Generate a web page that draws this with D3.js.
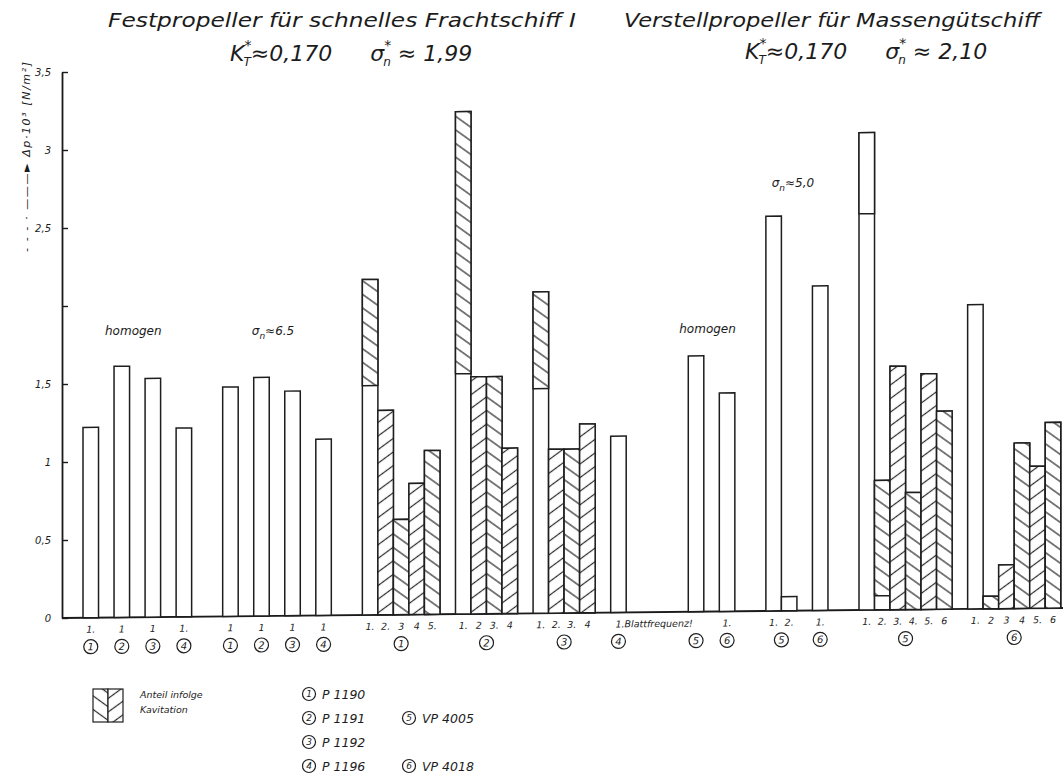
<!DOCTYPE html>
<html>
<head>
<meta charset="utf-8">
<script src="https://cdn.jsdelivr.net/npm/d3@7"></script>
<style>
  body { margin: 0; background: #fff; }
  text { font-family: "DejaVu Sans", sans-serif; font-style: italic; fill: #1c1c1c; }
</style>
</head>
<body>
<svg id="chart" width="1064" height="775"></svg>
<script>
// ---- Data ---------------------------------------------------------------
// Propellers (circled numbers)
const propellerNames = ["P 1190", "P 1191", "P 1192", "P 1196", "VP 4005", "VP 4018"];

// Measuring series: 0 homogen FP, 1 σn 6.5, 2 cavitating FP, 3 homogen VP, 4 σn 5,0, 5 cavitating VP
const sectionTitles = ["homogen", "σn≈6.5", "", "homogen", "σn≈5,0", ""];
const sectionPacked = [false, false, true, false, true, true];

// One entry per bar
const barSection = [0,0,0,0, 1,1,1,1, 2,2,2,2,2, 2,2,2,2, 2,2,2,2, 2, 3,3, 4,4,4, 5,5,5,5,5,5, 5,5,5,5,5,5];
const barProp    = [1,2,3,4, 1,2,3,4, 1,1,1,1,1, 2,2,2,2, 3,3,3,3, 4, 5,6, 5,5,6, 5,5,5,5,5,5, 6,6,6,6,6,6];
const barOrderLabel = ["1.","1","1","1.", "1","1","1","1",
  "1.","2.","3","4","5.", "1.","2","3.","4", "1.","2.","3.","4", "1.Blattfrequenz!",
  "", "1.", "1.","2.","1.", "1.","2.","3.","4.","5.","6", "1.","2","3","4","5.","6"];
// Δp·10^-3 total and non-cavitating share (the rest is the share due to cavitation)
const barTotal = [1.22,1.61,1.53,1.21, 1.47,1.53,1.44,1.13,
  2.15,1.31,0.61,0.84,1.05, 3.22,1.52,1.52,1.06, 2.06,1.05,1.05,1.21, 1.13,
  1.64,1.40, 2.53,0.09,2.08, 3.06,0.83,1.56,0.75,1.51,1.27, 1.95,0.08,0.28,1.06,0.91,1.19];
const barBase  = [1.22,1.61,1.53,1.21, 1.47,1.53,1.44,1.13,
  1.47,0,0,0,0, 1.54,0,0,0, 1.44,0,0,0, 1.13,
  1.64,1.40, 2.53,0.09,2.08, 2.54,0.09,0,0,0,0, 1.95,0,0,0,0,0];

const yTickValues = [0, 0.5, 1, 1.5, 2, 2.5, 3, 3.5];
const yTickLabels = ["0", "0,5", "1", "1,5", "", "2,5", "3", "3,5"];

// ---- Layout -------------------------------------------------------------
const svg = d3.select("#chart");
const axisX = 62;
const slope = 0.01;                 // the hand-drawn baseline rises slightly to the right
const skewDeg = Math.atan(slope) * 180 / Math.PI;

// Build the slot sequence along the baseline: spaced series leave one free slot
// between bars, packed series keep bars of one propeller side by side.
const slots = [];
let gapN = 0;
const gap = () => slots.push("gap" + (gapN++));
barSection.forEach((s, i) => {
  if (i > 0) {
    const ps = barSection[i - 1];
    if (ps !== s) {
      const n = (ps === 2 && s === 3) ? 4 : 2;
      for (let k = 0; k < n; k++) gap();
    } else if (!sectionPacked[s] || barProp[i - 1] !== barProp[i]) gap();
  }
  slots.push("b" + i);
});

const x = d3.scaleBand().domain(slots).range([83, 83 + slots.length * 15.52]).padding(0);
const y = d3.scaleLinear().domain([0, 3.5]).range([618, 72]);
const bw = x.bandwidth();

// hatch patterns
const defs = svg.append("defs");
function hatch(id, angle) {
  const p = defs.append("pattern").attr("id", id).attr("patternUnits", "userSpaceOnUse")
    .attr("width", 6).attr("height", 11).attr("patternTransform", `rotate(${angle})`);
  p.append("rect").attr("width", 6).attr("height", 11).attr("fill", "#fff");
  p.append("line").attr("x1", 0).attr("x2", 6).attr("y1", 5.5).attr("y2", 5.5)
    .attr("stroke", "#2a2a2a").attr("stroke-width", 1.2);
}
hatch("hBack", 36);   // "\\"
hatch("hFwd", -36);   // "//"

// ---- Titles -------------------------------------------------------------
function title(txt, x0, x1, yy) {
  svg.append("text").attr("x", x0).attr("y", yy).style("font-size", "20px")
    .attr("textLength", x1 - x0).attr("lengthAdjust", "spacingAndGlyphs").text(txt);
}
title("Festpropeller für schnelles Frachtschiff I", 108, 576, 27);
title("Verstellpropeller für Massengütschiff", 624, 1040, 27);

function coeffLine(x0, yy, sigma) {
  const t = svg.append("text").attr("x", x0).attr("y", yy).style("font-size", "22px");
  t.append("tspan").text("K");
  t.append("tspan").attr("dy", -11).style("font-size", "14px").text("*");
  t.append("tspan").attr("dx", -8).attr("dy", 16).style("font-size", "12px").text("T");
  t.append("tspan").attr("dy", -5).text("≈0,170");
  t.append("tspan").attr("dx", 38).text("σ");
  t.append("tspan").attr("dy", -11).style("font-size", "14px").text("*");
  t.append("tspan").attr("dx", -8).attr("dy", 16).style("font-size", "12px").text("n");
  t.append("tspan").attr("dy", -5).text(" ≈ " + sigma);
}
coeffLine(230, 61, "1,99");
coeffLine(745, 59, "2,10");

// ---- Y axis -------------------------------------------------------------
const yAxis = svg.append("g").attr("transform", `translate(${axisX},0)`)
  .call(d3.axisLeft(y).tickValues(yTickValues).tickSize(-6).tickSizeOuter(0).tickPadding(11)
    .tickFormat((d, i) => yTickLabels[i]));
yAxis.select(".domain").attr("stroke", "#1a1a1a").attr("stroke-width", 1.8);
yAxis.selectAll(".tick line").attr("stroke", "#1a1a1a").attr("stroke-width", 1.4);
yAxis.selectAll(".tick text").style("font-size", "10px").style("font-family", "DejaVu Sans")
  .style("font-style", "italic").attr("fill", "#333");

svg.append("text").attr("transform", "translate(30,62) rotate(-90)")
  .attr("text-anchor", "end").style("font-size", "11px")
  .attr("textLength", 190).attr("lengthAdjust", "spacing")
  .text("- - - · ———► Δp·10³  [N/m²]");

// ---- Bars (drawn on the slightly rising baseline) -----------------------
const plot = svg.append("g")
  .attr("transform", `translate(${axisX},0) skewY(${-skewDeg}) translate(${-axisX},0)`);

plot.append("line").attr("x1", axisX).attr("x2", 1063).attr("y1", y(0)).attr("y2", y(0))
  .attr("stroke", "#1a1a1a").attr("stroke-width", 1.8);

// hatch direction alternates inside a packed group, starting with "\\" at its first hatched bar
const groupKey = i => barSection[i] + "-" + barProp[i];
const openShare = i => barSection[i] === 5 && barOrderLabel[i] === "1.";  // first order share drawn open
const firstHatched = {};
barTotal.forEach((v, i) => {
  const k = groupKey(i);
  if (firstHatched[k] === undefined && v > barBase[i] && !openShare(i)) firstHatched[k] = i;
});

const bars = plot.selectAll("g.bar").data(barTotal.map((v, i) => i)).join("g").attr("class", "bar");
bars.append("rect")
  .attr("x", i => x("b" + i)).attr("width", bw)
  .attr("y", i => y(barTotal[i])).attr("height", i => y(0) - y(barTotal[i]))
  .attr("fill", "#fff").attr("stroke", "#1e1e1e").attr("stroke-width", 1.5);
bars.filter(i => barTotal[i] > barBase[i]).append("rect")
  .attr("x", i => x("b" + i)).attr("width", bw)
  .attr("y", i => y(barTotal[i])).attr("height", i => y(barBase[i]) - y(barTotal[i]))
  .attr("fill", i => {
    if (openShare(i)) return "#fff";
    const d = i - firstHatched[groupKey(i)];
    return d % 2 === 0 ? "url(#hBack)" : "url(#hFwd)";
  })
  .attr("stroke", "#1e1e1e").attr("stroke-width", 1.5);

// order labels
plot.selectAll("text.order").data(barTotal.map((v, i) => i)).join("text").attr("class", "order")
  .attr("x", i => x("b" + i) + bw / 2 - (barOrderLabel[i].length > 3 ? 3 : 0))
  .attr("y", y(0) + 15)
  .attr("text-anchor", i => barOrderLabel[i].length > 3 ? "start" : "middle")
  .style("font-size", "9.5px").attr("fill", "#333")
  .text(i => barOrderLabel[i]);

// circled propeller numbers under each group
const groups = d3.groups(barTotal.map((v, i) => i), groupKey);
const circ = plot.selectAll("g.pc").data(groups).join("g").attr("class", "pc")
  .attr("transform", ([k, idx]) => {
    const cx = (x("b" + idx[0]) + x("b" + idx[idx.length - 1]) + bw) / 2;
    return `translate(${cx},${y(0) + 29})`;
  });
circ.append("circle").attr("r", 7).attr("fill", "none").attr("stroke", "#1e1e1e").attr("stroke-width", 1.2);
circ.append("text").attr("text-anchor", "middle").attr("dy", "0.36em").style("font-size", "10px")
  .text(([k, idx]) => barProp[idx[0]]);

// ---- Series annotations -------------------------------------------------
const annotY = [335, 335, 0, 333, 187, 0];
sectionTitles.forEach((t, s) => {
  if (!t) return;
  const idx = barTotal.map((v, i) => i).filter(i => barSection[i] === s);
  const cx = (x("b" + idx[0]) + x("b" + idx[idx.length - 1]) + bw) / 2 - 4;
  const tx = svg.append("text").attr("x", cx).attr("y", annotY[s]).attr("text-anchor", "middle")
    .style("font-size", "12px");
  if (t.startsWith("σn")) {
    tx.append("tspan").text("σ");
    tx.append("tspan").attr("dy", 4).style("font-size", "9px").text("n");
    tx.append("tspan").attr("dy", -4).text(t.slice(2));
  } else tx.text(t);
});

// ---- Legend -------------------------------------------------------------
const lg = svg.append("g").attr("transform", "translate(93,689)");
lg.append("rect").attr("width", 15).attr("height", 33).attr("fill", "url(#hBack)")
  .attr("stroke", "#1e1e1e").attr("stroke-width", 1.2);
lg.append("rect").attr("x", 15).attr("width", 15).attr("height", 33).attr("fill", "url(#hFwd)")
  .attr("stroke", "#1e1e1e").attr("stroke-width", 1.2);
svg.append("text").attr("x", 140).attr("y", 698).style("font-size", "9.5px").text("Anteil infolge");
svg.append("text").attr("x", 140).attr("y", 713).style("font-size", "9.5px").text("Kavitation");

const pl = svg.selectAll("g.pl").data(propellerNames).join("g").attr("class", "pl")
  .attr("transform", (d, i) => {
    const p = i + 1;
    const col = p <= 4 ? 0 : 1;
    const row = p <= 4 ? p - 1 : (p - 5) * 2 + 1;
    return `translate(${309 + col * 100},${694 + row * 24})`;
  });
pl.append("circle").attr("r", 6.5).attr("fill", "none").attr("stroke", "#1e1e1e").attr("stroke-width", 1.2);
pl.append("text").attr("text-anchor", "middle").attr("dy", "0.36em").style("font-size", "9px")
  .text((d, i) => i + 1);
pl.append("text").attr("x", 13).attr("dy", "0.36em").style("font-size", "12.5px").text(d => d);
</script>
</body>
</html>
